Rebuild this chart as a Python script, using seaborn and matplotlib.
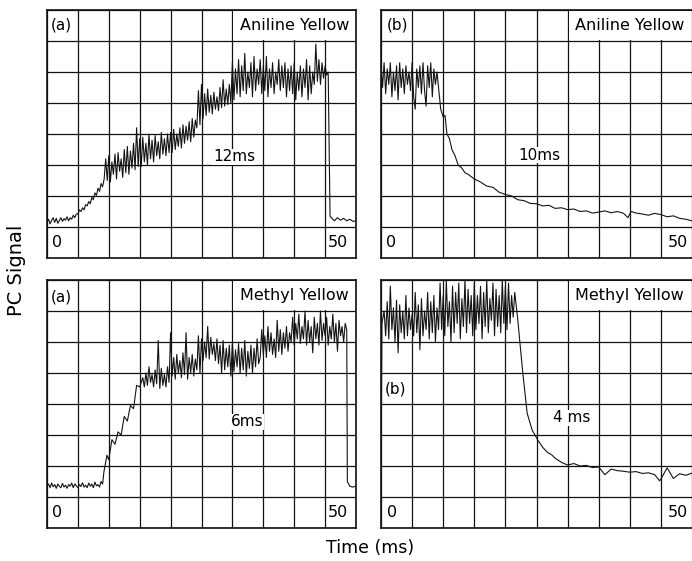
import numpy as np
import pandas as pd
import matplotlib
matplotlib.use("Agg")
import matplotlib.pyplot as plt
from matplotlib.patches import Rectangle
import seaborn as sns

# ---- data (time in ms, signal in grid divisions) ----
# noisy stretches were read at a fixed 0.25 ms sampling

# (a) Aniline Yellow: build-up, noisy part from t = 0
a_noisy = [1.15, 1.25, 1.1, 1.22, 1.3, 1.15, 1.28, 1.12, 1.2, 1.3, 1.18, 1.27, 1.22, 1.33, 1.2, 1.3, 1.25, 1.38, 1.3, 1.42,
           1.42, 1.55, 1.5, 1.62, 1.55, 1.72, 1.68, 1.82, 1.75, 1.95, 1.88, 2.1, 2.02, 2.25, 2.15, 2.4, 2.3, 2.55,
           3.2, 2.5, 3.3, 2.45, 3.1, 2.7, 3.35, 2.55, 3.4, 2.8, 3.2, 2.6, 3.5, 2.75, 3.6, 2.7, 3.45, 2.9, 3.7, 2.85, 4.2, 2.95,
           3.85, 2.95, 3.9, 3.1, 3.7, 3.0, 4.0, 3.2, 3.8, 3.1, 3.95, 3.3, 3.75, 3.2, 4.05, 3.35, 3.85, 3.3, 4.0, 3.4,
           4.05, 3.4, 4.15, 3.5, 4.0, 3.6, 4.2, 3.55, 4.3, 3.7, 4.25, 3.8, 4.4, 3.75, 4.5, 3.9, 4.45, 4.2,
           5.4, 4.3, 5.6, 4.5, 5.3, 4.6, 5.45, 4.7, 5.25, 4.65, 5.35, 4.8, 5.2, 4.75, 5.5, 4.85, 5.75, 4.9, 5.45, 4.95, 5.6, 5.0,
           6.3, 5.1, 6.1, 5.3, 6.4, 5.2, 6.2, 5.4, 6.6, 5.3, 6.0, 5.5, 6.3, 5.2, 6.5, 5.4, 6.1, 5.6, 6.4, 5.3,
           6.2, 5.4, 6.5, 5.2, 6.1, 5.5, 6.3, 5.3, 6.0, 5.6, 6.4, 5.4, 6.2, 5.5, 6.3, 5.2, 6.1, 5.4, 6.2, 5.3,
           6.3, 5.1, 6.0, 5.4, 6.2, 5.2, 6.1, 5.5, 6.4, 5.1, 6.2, 5.3, 6.0, 5.6, 6.9, 5.7, 6.4, 5.6, 6.3, 5.8, 6.2, 5.9, 6.0]
a_tail_time = [45.8, 46, 46.5, 47, 47.5, 48, 48.5, 49, 49.5, 50]
a_tail = [1.35, 1.3, 1.2, 1.3, 1.22, 1.28, 1.2, 1.25, 1.18, 1.2]

# (b) Aniline Yellow: decay, noisy part from t = 0
b_noisy = [6.2, 5.5, 6.3, 5.3, 6.1, 5.6, 6.3, 5.2, 6.0, 5.4, 6.2, 5.1, 6.3, 5.5, 6.1, 5.3, 6.2, 5.6, 6.0, 5.4,
           6.3, 5.2, 4.8, 6.1, 5.5, 6.2, 5.3, 6.3, 5.4, 4.9, 6.2, 5.5, 6.3, 5.2, 6.1, 5.6, 6.0]
b_decay_time = [9.2, 9.6, 10.0, 10.3, 10.6, 11.0, 11.4, 11.9, 12.4, 13.0,
                13.5, 14.0, 15, 16, 17, 18, 19, 20, 21, 22, 23, 24, 25, 26,
                27, 28, 29, 30, 31, 32, 33, 34, 35, 36, 37, 38, 39, 39.7,
                40.2, 41, 42, 43, 44, 45, 46, 47, 48, 49, 50]
b_decay = [5.6, 4.8, 4.55, 4.6, 4.0, 3.85, 3.5, 3.3, 3.0, 2.9,
           2.75, 2.7, 2.55, 2.45, 2.32, 2.28, 2.12, 2.05, 2.0, 1.88, 1.85,
           1.76, 1.75, 1.68, 1.7, 1.6, 1.62, 1.56, 1.58, 1.5, 1.52, 1.45,
           1.48, 1.52, 1.46, 1.5, 1.44, 1.3, 1.5, 1.45, 1.42, 1.38, 1.44,
           1.4, 1.33, 1.36, 1.28, 1.25, 1.2]

# (a) Methyl Yellow: build-up
c_base = [1.35, 1.42, 1.3, 1.45, 1.33, 1.4, 1.28, 1.42, 1.35, 1.3, 1.44, 1.32, 1.38, 1.28, 1.4, 1.35, 1.45, 1.3, 1.42, 1.36,
          1.3, 1.4, 1.34, 1.46, 1.32, 1.38, 1.3, 1.45, 1.35, 1.42, 1.3, 1.48, 1.36, 1.4, 1.32, 1.5, 1.42]
c_rise_time = [9.2, 9.7, 10, 10.5, 11, 11.5, 12, 12.5, 13, 13.5, 14, 14.5, 15]
c_rise = [1.8, 2.35, 2.2, 2.85, 2.7, 3.1, 3.0, 3.6, 3.45, 3.95, 3.85, 4.6, 4.55]
# noisy part from t = 15.5
c_noisy = [4.85, 4.55, 5.0, 4.6, 5.2, 4.7, 4.95, 4.55, 5.1, 4.65, 6.05, 4.5, 5.15, 4.6, 4.95, 4.55, 5.2, 4.7,
           6.3, 4.9, 5.5, 4.8, 5.6, 5.0, 5.4, 4.85, 5.65, 4.95, 6.3, 4.8, 5.5, 5.0, 5.6, 4.9, 5.45, 5.1, 6.2, 5.0,
           6.1, 5.4, 6.0, 5.5, 6.5, 5.45, 6.15, 5.6, 5.95, 5.4, 6.1, 5.3,
           5.9, 5.0, 6.05, 5.1, 5.8, 5.2, 5.9, 4.9, 6.0, 5.05, 5.75, 5.2, 5.95, 5.0, 5.8, 5.1, 6.05, 4.9, 5.7, 5.15,
           5.9, 5.0, 5.8, 5.2, 6.1, 5.3,
           5.5, 6.4, 5.6, 6.2, 5.5, 6.5, 5.7, 6.3, 5.6, 6.1, 5.5, 6.7, 5.7, 6.4, 5.6, 6.3, 5.8, 6.5, 5.7, 6.3,
           6.0, 6.8, 5.9, 6.6, 6.1, 6.9, 5.95, 6.5, 6.1, 7.0, 5.9, 6.7, 6.0, 6.5, 5.65, 6.8, 6.1, 6.6, 5.9, 7.0,
           6.05, 6.6, 6.2, 6.8, 5.9, 6.5, 6.1, 6.9, 6.0, 6.6, 5.7, 6.7, 6.2, 6.5, 6.0, 6.6, 6.4]
c_tail_time = [48.6, 49, 49.5, 50]
c_tail = [1.5, 1.35, 1.32, 1.35]

# (b) Methyl Yellow: decay
d_start_time = [0, 0.15]
d_start = [1.1, 6.6]
# noisy part from t = 0.5
d_noisy = [7.0, 6.2, 7.3, 6.1, 7.8, 6.4, 7.1, 6.0, 7.35, 5.65, 7.2, 6.3, 7.0, 6.1, 7.5, 6.2, 7.1, 6.4,
           6.9, 6.2, 7.6, 6.3, 7.2, 5.75, 7.4, 6.2, 7.0, 6.4, 7.6, 6.1, 7.3, 6.3, 7.5, 6.0, 7.1, 6.4,
           7.9, 6.4, 7.5, 6.2, 8.0, 6.5, 7.3, 6.0, 7.8, 6.3, 7.6, 6.6, 7.9, 6.1, 7.4, 6.5, 8.0, 6.3, 7.7, 6.6, 7.5, 6.2,
           7.9, 6.4, 7.5, 6.6, 7.8, 6.1, 7.6, 6.5, 8.0, 6.3, 7.4, 6.7, 7.9, 6.2, 7.7, 6.5, 7.5, 6.3, 8.0, 6.6,
           7.8, 6.4, 7.9, 6.6, 7.5, 6.8, 7.6]
d_decay_time = [22.0, 22.3, 22.8, 23.5, 24.3, 25.2, 26, 26.7, 27.5, 28,
                29, 30, 31, 32, 33, 34, 35, 36, 37, 38,
                39, 40, 41, 42, 43, 44, 44.8, 45.2, 46, 47,
                48, 49, 50]
d_decay = [6.7, 6.05, 5.0, 3.7, 3.16, 2.84, 2.6, 2.45, 2.35, 2.25,
           2.12, 2.03, 2.08, 2.0, 2.02, 1.95, 1.97, 1.72, 1.9, 1.85,
           1.83, 1.8, 1.82, 1.76, 1.78, 1.72, 1.52, 1.65, 1.94, 1.6,
           1.75, 1.7, 1.77]


def sampled(start, values, step=0.25):
    return list(start + step * np.arange(len(values)))


traces = {
    "a_top": (sampled(0, a_noisy) + a_tail_time, a_noisy + a_tail),
    "b_top": (sampled(0, b_noisy) + b_decay_time, b_noisy + b_decay),
    "a_bot": (sampled(0, c_base) + c_rise_time + sampled(15.5, c_noisy) + c_tail_time,
              c_base + c_rise + c_noisy + c_tail),
    "b_bot": (d_start_time + sampled(0.5, d_noisy) + d_decay_time,
              d_start + d_noisy + d_decay),
}

sns.set_style("white")
plt.rcParams['font.family'] = ['DejaVu Sans']
plt.rcParams['text.color'] = 'black'

fig = plt.figure(figsize=(6.92, 5.61), dpi=100)
W, H = 692, 561


def px_axes(x0, y0, x1, y1):
    return fig.add_axes([x0 / W, 1 - y1 / H, (x1 - x0) / W, (y1 - y0) / H])


def draw_panel(ax, key, tag, tag_pos, name, tau, tau_pos, zero_x, fifty_x, right_edge=False):
    t, s = traces[key]
    df = pd.DataFrame({"t": t, "s": s})
    sns.lineplot(data=df, x="t", y="s", ax=ax, sort=False, estimator=None,
                 color="#141414", lw=0.8, zorder=3)
    ax.set_xlim(0, 50)
    ax.set_ylim(0, 8)
    ax.set_xticks(np.arange(0, 51, 5))
    ax.set_yticks(np.arange(0, 9, 1))
    ax.tick_params(length=0, labelbottom=False, labelleft=False)
    ax.grid(True, color="#111111", lw=0.9)
    ax.set_axisbelow(True)
    ax.set_xlabel("")
    ax.set_ylabel("")
    for sp in ax.spines.values():
        sp.set_color("#111111")
        sp.set_linewidth(1.2)
    if right_edge:
        ax.spines["right"].set_visible(False)
    # white label box in the top row hides the inner grid lines
    ax.add_patch(Rectangle((30.15, 7.04), 19.7, 0.92, facecolor="white",
                           edgecolor="none", zorder=1))
    ax.text(40, 7.5, name, ha="center", va="center", fontsize=11.5, zorder=4)
    if tag:
        ax.text(tag_pos[0], tag_pos[1], tag, ha="center", va="center", fontsize=11, zorder=4)
    ax.text(tau_pos[0], tau_pos[1], tau, ha="center", va="center", fontsize=11, zorder=4,
            bbox=dict(facecolor="white", edgecolor="none", pad=0.5))
    ax.text(zero_x, 0.5, "0", ha="center", va="center", fontsize=11.5, zorder=4)
    ax.text(fifty_x, 0.5, "50", ha="center", va="center", fontsize=11.5, zorder=4)


ax1 = px_axes(47, 10, 356, 258)
draw_panel(ax1, "a_top", "(a)", (2.3, 7.5), "Aniline Yellow", "12ms", (30.3, 3.26), 1.6, 47)
ax2 = px_axes(381, 10, 692, 258)
draw_panel(ax2, "b_top", "(b)", (2.6, 7.5), "Aniline Yellow", "10ms", (25.5, 3.32), 1.6, 47.8,
           right_edge=True)
ax3 = px_axes(47, 280, 356, 528)
draw_panel(ax3, "a_bot", "(a)", (2.3, 7.45), "Methyl Yellow", "6ms", (32.4, 3.42), 1.6, 47)
ax4 = px_axes(381, 280, 692, 528)
draw_panel(ax4, "b_bot", "", None, "Methyl Yellow", "4 ms", (30.7, 3.55), 1.8, 47.8,
           right_edge=True)
ax4.text(2.4, 4.5, "(b)", ha="center", va="center", fontsize=11, zorder=4,
         bbox=dict(facecolor="white", edgecolor="none", pad=0.5))

fig.text(17 / W, 1 - 270 / H, "PC Signal", rotation=90, ha="center", va="center", fontsize=14)
fig.text(370 / W, 1 - 548 / H, "Time (ms)", ha="center", va="center", fontsize=12.5)

fig.savefig("out.png", dpi=100, facecolor="white")
